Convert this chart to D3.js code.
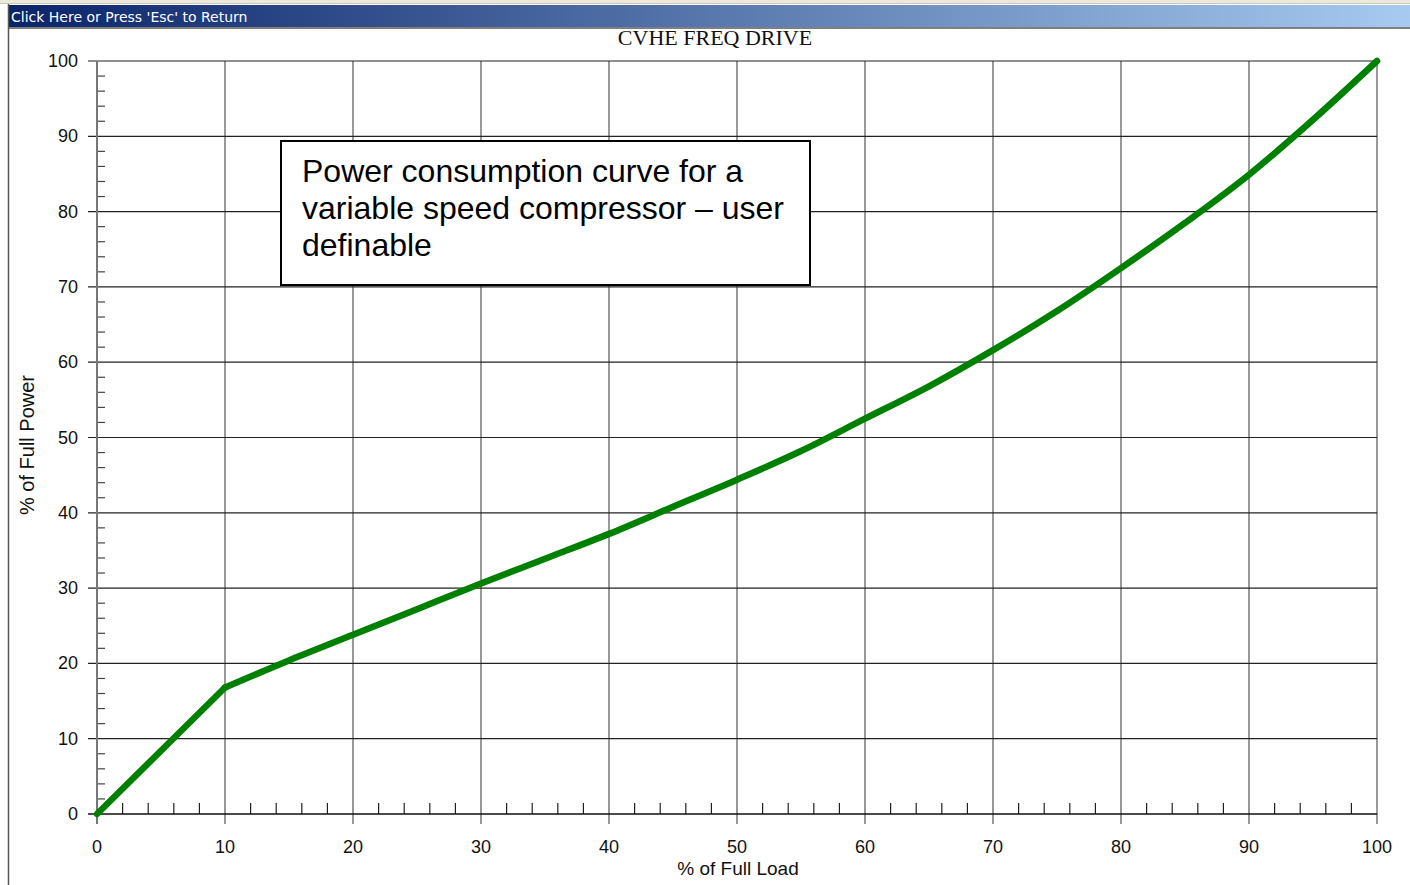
<!DOCTYPE html>
<html>
<head>
<meta charset="utf-8">
<script src="https://d3js.org/d3.v7.min.js"></script>
<style>
  body { margin: 0; background: #fff; }
  svg { display: block; }
</style>
</head>
<body>
<script>
// values
var loadPct  = [0, 5, 10, 15, 20, 25, 30, 35, 40, 45, 50, 55, 60, 65, 70, 75, 80, 85, 90, 95, 100];
var powerPct = [0, 8.4, 16.8, 20.4, 23.8, 27.2, 30.6, 33.9, 37.2, 40.8, 44.4, 48.2, 52.5, 56.8, 61.6, 66.8, 72.5, 78.5, 84.9, 92.2, 100];
var majorTicks = d3.range(0, 101, 10);
var minorTicks = d3.range(0, 101, 2).filter(d => d % 10 != 0);

var W = 1410, H = 885;
var svg = d3.select("body").append("svg").attr("width", W).attr("height", H);

// window chrome
var grad = svg.append("defs").append("linearGradient").attr("id", "bar");
grad.append("stop").attr("offset", "0%").attr("stop-color", "#0a246a");
grad.append("stop").attr("offset", "100%").attr("stop-color", "#a6caf0");
svg.append("rect").attr("x", 0).attr("y", 0).attr("width", W).attr("height", 4).attr("fill", "#ece9d8");
svg.append("line").attr("x1", 0).attr("x2", W).attr("y1", 3.5).attr("y2", 3.5).attr("stroke", "#c8c8c8");
svg.append("rect").attr("x", 9).attr("y", 5).attr("width", W - 9).attr("height", 22).attr("fill", "url(#bar)");
svg.append("line").attr("x1", 9).attr("x2", W).attr("y1", 28).attr("y2", 28).attr("stroke", "#555").attr("stroke-width", 1.5);
svg.append("line").attr("x1", 8.5).attr("x2", 8.5).attr("y1", 4).attr("y2", H).attr("stroke", "#555").attr("stroke-width", 1.5);
svg.append("text").attr("x", 11).attr("y", 22).attr("fill", "#fff")
   .style("font-family", "DejaVu Sans, sans-serif").style("font-size", "14px")
   .text("Click Here or Press 'Esc' to Return");

var x = d3.scaleLinear().domain([0, 100]).range([97, 1377]);
var y = d3.scaleLinear().domain([0, 100]).range([814, 61]);

// title
svg.append("text").attr("x", 715).attr("y", 45).attr("text-anchor", "middle")
   .style("font-family", "Liberation Serif, serif").style("font-size", "22px").attr("fill", "#111")
   .text("CVHE FREQ DRIVE");

// grid
svg.append("g").selectAll("line").data(majorTicks.slice(1)).enter().append("line")
   .attr("x1", d => x(d)).attr("x2", d => x(d)).attr("y1", y(100)).attr("y2", y(0) + 10)
   .attr("stroke", "#777").attr("stroke-width", 1.5);
svg.append("g").selectAll("line").data(majorTicks.slice(1)).enter().append("line")
   .attr("x1", x(0) - 9).attr("x2", x(100)).attr("y1", d => y(d)).attr("y2", d => y(d))
   .attr("stroke", "#222").attr("stroke-width", 1.2);

// minor ticks
svg.append("g").selectAll("line").data(minorTicks).enter().append("line")
   .attr("x1", x(0)).attr("x2", x(0) + 8).attr("y1", d => y(d)).attr("y2", d => y(d))
   .attr("stroke", "#444").attr("stroke-width", 1.2);
svg.append("g").selectAll("line").data(minorTicks).enter().append("line")
   .attr("x1", d => x(d)).attr("x2", d => x(d)).attr("y1", y(0)).attr("y2", y(0) - 11)
   .attr("stroke", "#222").attr("stroke-width", 1.2);

// axes lines
svg.append("line").attr("x1", x(0)).attr("x2", x(0)).attr("y1", y(100)).attr("y2", y(0) + 10)
   .attr("stroke", "#777").attr("stroke-width", 2);
svg.append("line").attr("x1", x(0) - 9).attr("x2", x(100)).attr("y1", y(0)).attr("y2", y(0))
   .attr("stroke", "#111").attr("stroke-width", 1.5);

// tick labels
svg.append("g").selectAll("text").data(majorTicks).enter().append("text")
   .attr("x", 78).attr("y", d => y(d) + 6).attr("text-anchor", "end")
   .style("font-family", "Liberation Sans, Arial, sans-serif").style("font-size", "18px").attr("fill", "#111")
   .text(d => d);
svg.append("g").selectAll("text").data(majorTicks).enter().append("text")
   .attr("x", d => x(d)).attr("y", 853).attr("text-anchor", "middle")
   .style("font-family", "Liberation Sans, Arial, sans-serif").style("font-size", "18px").attr("fill", "#111")
   .text(d => d);

// axis titles
svg.append("text").attr("x", 738).attr("y", 875).attr("text-anchor", "middle")
   .style("font-family", "Liberation Sans, Arial, sans-serif").style("font-size", "19px").attr("fill", "#111")
   .text("% of Full Load");
svg.append("text").attr("transform", "translate(34,445) rotate(-90)").attr("text-anchor", "middle")
   .style("font-family", "Liberation Sans, Arial, sans-serif").style("font-size", "20px").attr("fill", "#111")
   .text("% of Full Power");

// curve: straight up to 10 %, smooth above the knee
var pts = loadPct.map((d, i) => [d, powerPct[i]]);
var low = pts.filter(p => p[0] <= 10), high = pts.filter(p => p[0] >= 10);
var lineLow = d3.line().x(p => x(p[0])).y(p => y(p[1]));
var lineHigh = d3.line().x(p => x(p[0])).y(p => y(p[1])).curve(d3.curveMonotoneX);
[lineLow(low), lineHigh(high)].forEach(function(dd) {
   svg.append("path").attr("d", dd)
      .attr("fill", "none").attr("stroke", "#008000").attr("stroke-width", 6.5)
      .attr("stroke-linejoin", "round").attr("stroke-linecap", "round");
});

// note box
var note = svg.append("g");
note.append("rect").attr("x", 281).attr("y", 141).attr("width", 529).attr("height", 144)
   .attr("fill", "#fff").attr("stroke", "#000").attr("stroke-width", 2);
["Power consumption curve for a", "variable speed compressor \u2013 user", "definable"].forEach(function(t, i) {
   note.append("text").attr("x", 302).attr("y", 182 + i * 37)
      .style("font-family", "Liberation Sans, Arial, sans-serif").style("font-size", "32px").attr("fill", "#000")
      .text(t);
});
</script>
</body>
</html>
